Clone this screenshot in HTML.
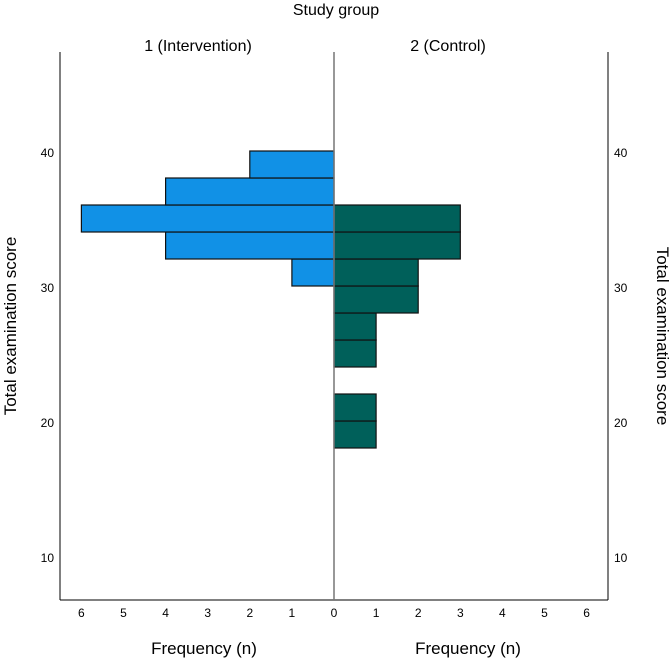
<!DOCTYPE html>
<html><head><meta charset="utf-8"><style>body{margin:0;background:#fff}svg{display:block;font-family:"Liberation Sans",sans-serif}</style></head>
<body>
<svg width="672" height="659">
<text x="336" y="15" text-anchor="middle" font-size="16">Study group</text>
<text x="198" y="51" text-anchor="middle" font-size="16">1 (Intervention)</text>
<text x="448" y="51" text-anchor="middle" font-size="16">2 (Control)</text>
<g id="bars"></g>
<line x1="60" y1="52" x2="60" y2="600" stroke="#000"/>
<line x1="608" y1="52" x2="608" y2="600" stroke="#000"/>
<line x1="60" y1="600" x2="608" y2="600" stroke="#000"/>
<line x1="334" y1="52" x2="334" y2="600" stroke="#777" stroke-width="1.5"/>
<g id="ticks" font-size="12"></g>
<text transform="translate(16,326) rotate(-90)" text-anchor="middle" font-size="17">Total examination score</text>
<text transform="translate(657,336) rotate(90)" text-anchor="middle" font-size="17">Total examination score</text>
<text x="204" y="654" text-anchor="middle" font-size="17">Frequency (n)</text>
<text x="468" y="654" text-anchor="middle" font-size="17">Frequency (n)</text>
</svg>
<script>
const binStarts = [18,20,22,24,26,28,30,32,34,36,38];
const interventionCounts = [0,0,0,0,0,0,1,4,6,4,2];
const controlCounts = [1,1,0,1,1,2,2,3,3,0,0];
const yTicks = [10,20,30,40];
const xTicks = [0,1,2,3,4,5,6];
const binWidth = 2;
const NS='http://www.w3.org/2000/svg';
const y = v => 151 + (40 - v) * 13.5;
const dx = n => n * 42.1;
const cx = 334;
const bars = document.getElementById('bars');
function rect(x,yy,w,h,fill,name){
  const r=document.createElementNS(NS,'rect');
  r.setAttribute('x',x);r.setAttribute('y',yy);r.setAttribute('width',w);r.setAttribute('height',h);
  r.setAttribute('fill',fill);r.setAttribute('stroke','#111');r.setAttribute('stroke-width','1.2');
  
  
  bars.appendChild(r);
}
binStarts.forEach((b,i)=>{
  const top=y(b+binWidth), h=y(b)-y(b+binWidth);
  if(interventionCounts[i]>0) rect(cx-dx(interventionCounts[i]),top,dx(interventionCounts[i]),h,'#1191e6','intervention-bar-'+b);
  if(controlCounts[i]>0) rect(cx,top,dx(controlCounts[i]),h,'#00605a','control-bar-'+b);
});
const tg=document.getElementById('ticks');
function txt(x,yy,s,anchor,name){
  const t=document.createElementNS(NS,'text');
  t.setAttribute('x',x);t.setAttribute('y',yy);t.setAttribute('text-anchor',anchor);t.textContent=s;
  
  
  tg.appendChild(t);
}
yTicks.forEach(v=>{
  txt(54,y(v)+6,v,'end','left-y-tick-'+v);
  txt(614,y(v)+6,v,'start','right-y-tick-'+v);
});
xTicks.forEach(v=>{
  if(v===0){txt(cx,617,0,'middle','x-tick-0');return;}
  txt(cx-dx(v),617,v,'middle','left-x-tick-'+v);
  txt(cx+dx(v),617,v,'middle','right-x-tick-'+v);
});
</script>
</body></html>
